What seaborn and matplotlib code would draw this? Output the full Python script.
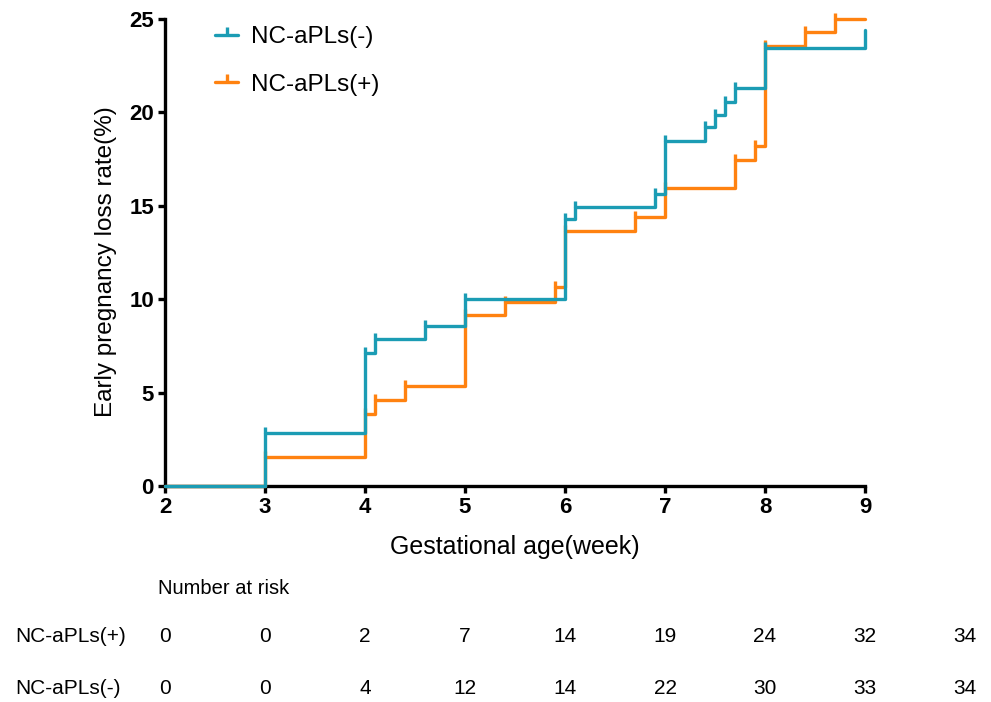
import numpy as np
import pandas as pd
import matplotlib
matplotlib.use('Agg')
import matplotlib.pyplot as plt
import matplotlib.transforms as mtransforms
from matplotlib.lines import Line2D
from matplotlib.path import Path
import seaborn as sns

# step curves (week, cumulative loss rate %)
weeks_neg = [2, 3, 4, 4.1, 4.6, 5, 6, 6.1, 6.9, 7, 7.4, 7.5, 7.6, 7.7, 8, 9]
rate_neg = [0, 2.86, 7.14, 7.86, 8.57, 10.0, 14.29, 14.93, 15.63, 18.46, 19.2, 19.86, 20.57, 21.29, 23.43, 24.43]
weeks_pos = [2, 3, 4, 4.1, 4.4, 5, 5.4, 5.9, 6, 6.7, 7, 7.7, 7.9, 8, 8.4, 8.7, 9]
rate_pos = [0, 1.55, 3.85, 4.62, 5.38, 9.15, 9.87, 10.63, 13.67, 14.42, 15.94, 17.45, 18.22, 23.57, 24.29, 25.0, 25.0]

# censor marks
cens_neg = [3, 4, 4.1, 4.6, 5, 6, 6.1, 6.9, 7, 7.4, 7.5, 7.6, 7.7, 8]
cens_pos = [3, 4, 4.1, 4.4, 5, 5.4, 5.9, 6, 6.7, 7, 7.7, 7.9, 8, 8.4, 8.7]

# number at risk table
risk_weeks = [2, 3, 4, 5, 6, 7, 8, 9, 10]
risk_pos = [0, 0, 2, 7, 14, 19, 24, 32, 34]
risk_neg = [0, 0, 4, 12, 14, 22, 30, 33, 34]

groups = ['NC-aPLs(-)', 'NC-aPLs(+)']
colors = {'NC-aPLs(-)': '#1b9cb4', 'NC-aPLs(+)': '#ff8210'}

sns.set_style('ticks')
plt.rcParams['font.family'] = ['Liberation Sans', 'DejaVu Sans']
plt.rcParams.update({'text.color': 'black', 'axes.labelcolor': 'black',
                     'xtick.color': 'black', 'ytick.color': 'black'})

fig = plt.figure(figsize=(9.91, 7.02), dpi=100)
ax = fig.add_axes([165 / 991, 1 - 486 / 702, 700 / 991, 467 / 702])

lw = 2.4
tick_h = 0.32
series = [('NC-aPLs(+)', weeks_pos, rate_pos, cens_pos),
          ('NC-aPLs(-)', weeks_neg, rate_neg, cens_neg)]
for i, (name, wk, rt, cens) in enumerate(series):
    df = pd.DataFrame({'week': wk, 'rate': rt})
    sns.lineplot(data=df, x='week', y='rate', ax=ax, color=colors[name],
                 drawstyle='steps-post', linewidth=lw, estimator=None,
                 sort=False, clip_on=False, zorder=5 + i)
    lvl = [rt[wk.index(c)] for c in cens]
    ax.vlines(cens, lvl, np.array(lvl) + tick_h, color=colors[name],
              linewidth=lw, clip_on=False, zorder=5 + i)

ax.set_xlim(2, 9)
ax.set_ylim(0, 25)
ax.set_xticks(range(2, 10))
ax.set_yticks(range(0, 26, 5))
for s in ['top', 'right']:
    ax.spines[s].set_visible(False)
for s in ['left', 'bottom']:
    ax.spines[s].set_linewidth(2.4)
    ax.spines[s].set_color('black')
ax.tick_params(width=2.4, length=5, color='black', labelsize=16, pad=3)
for lab in ax.get_xticklabels() + ax.get_yticklabels():
    lab.set_fontweight('bold')

ax.set_xlabel('Gestational age(week)', fontsize=18)
ax.set_ylabel('Early pregnancy loss rate(%)', fontsize=17.5)
ax.xaxis.set_label_coords(0.5, -0.105)
ax.yaxis.set_label_coords(-0.068, 0.48)

up_tick = Path([(0, 0), (0, 1)])
handles = [Line2D([0], [0], color=colors[g], lw=lw, marker=up_tick, markersize=11,
                  markeredgewidth=lw) for g in groups]
ax.legend(handles, groups, loc='upper left', bbox_to_anchor=(0.072, 0.985),
          frameon=False, fontsize=17.5, handlelength=0.95, handletextpad=0.5,
          labelspacing=1.05, borderpad=0, borderaxespad=0)

# number at risk table
tr = mtransforms.blended_transform_factory(ax.transData, fig.transFigure)
fig.text(158 / 991, 1 - 588 / 702, 'Number at risk', fontsize=14.5,
         va='center', ha='left')
rows = [('NC-aPLs(+)', risk_pos, 1 - 637 / 702), ('NC-aPLs(-)', risk_neg, 1 - 688 / 702)]
for label, vals, yy in rows:
    fig.text(15 / 991, yy, label, fontsize=15, va='center', ha='left')
    for wk, v in zip(risk_weeks, vals):
        ax.text(wk, yy, str(v), transform=tr, fontsize=15, ha='center',
                va='center', clip_on=False)

fig.savefig('out.png', dpi=100)
